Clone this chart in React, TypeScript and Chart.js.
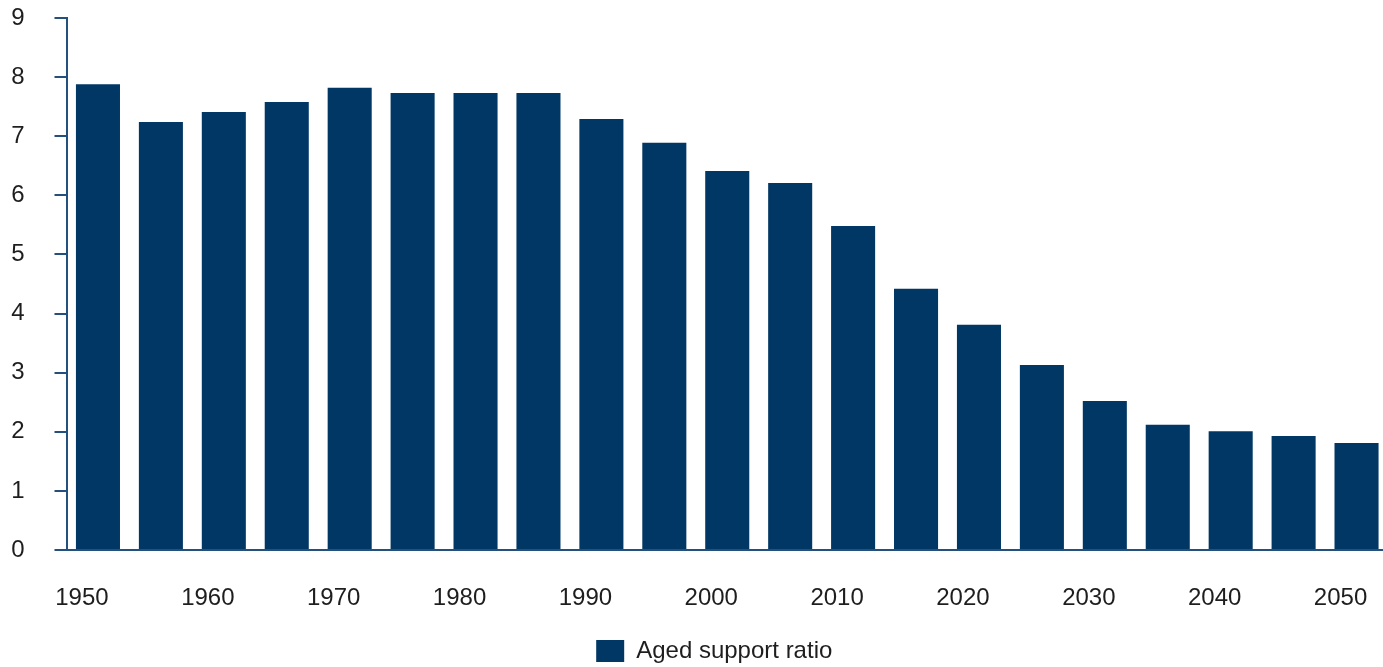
import React, { useEffect, useRef } from "react";
import { Chart, registerables } from "chart.js";

Chart.register(...registerables);

const years: string[] = [
  "1950", "1955", "1960", "1965", "1970", "1975", "1980", "1985", "1990", "1995",
  "2000", "2005", "2010", "2015", "2020", "2025", "2030", "2035", "2040", "2045", "2050",
];
const agedSupportRatio: number[] = [
  7.88, 7.24, 7.41, 7.58, 7.82, 7.73, 7.73, 7.73, 7.29, 6.89,
  6.41, 6.21, 5.48, 4.42, 3.81, 3.13, 2.52, 2.12, 2.01, 1.93, 1.81,
];
const yTicks: number[] = [0, 1, 2, 3, 4, 5, 6, 7, 8, 9];
const seriesName = "Aged support ratio";

const BAR = "#003764";
const AXIS = "#23507d";
const TEXT = "#1e1e1e";
const FONT = "'Liberation Sans', Arial, sans-serif";

const legendShift = {
  id: "legendShift",
  afterLayout(chart: any) {
    const lg = chart.legend;
    if (lg) {
      lg.left -= 13;
      lg.right -= 13;
    }
  },
};

export default function App() {
  const ref = useRef<HTMLCanvasElement | null>(null);
  useEffect(() => {
    if (!ref.current) return;
    const chart = new Chart(ref.current, {
      type: "bar",
      data: {
        labels: years,
        datasets: [
          {
            label: seriesName,
            data: agedSupportRatio,
            backgroundColor: BAR,
            borderWidth: 0,
            barPercentage: 0.7,
            categoryPercentage: 1,
          },
        ],
      },
      plugins: [legendShift],
      options: {
        responsive: false,
        animation: false,
        layout: { padding: { left: 11, right: 4, top: 18, bottom: 3 } },
        plugins: {
          tooltip: { enabled: false },
          legend: {
            position: "bottom",
            fullSize: false,
            labels: {
              boxWidth: 28,
              boxHeight: 22,
              padding: 6,
              color: TEXT,
              font: { family: FONT, size: 24 },
            },
          },
        },
        scales: {
          x: {
            grid: { display: false },
            border: { display: true, color: AXIS, width: 2 },
            ticks: {
              autoSkip: false,
              maxRotation: 0,
              padding: 26,
              labelOffset: -16,
              color: TEXT,
              font: { family: FONT, size: 24 },
              callback: (_v: any, i: number) => (Number(years[i]) % 10 === 0 ? years[i] : ""),
            },
            afterFit: (axis: any) => {
              axis.height = 83;
              axis.paddingLeft = 0;
              axis.paddingRight = 0;
            },
          },
          y: {
            min: yTicks[0],
            max: yTicks[yTicks.length - 1],
            afterBuildTicks: (axis: any) => {
              axis.ticks = yTicks.map((v) => ({ value: v }));
            },
            afterFit: (axis: any) => {
              axis.width = 55.5;
              axis.paddingTop = 0;
              axis.paddingBottom = 0;
            },
            grid: {
              drawOnChartArea: false,
              drawTicks: true,
              tickLength: 12,
              color: AXIS,
              lineWidth: 2,
            },
            border: { display: true, color: AXIS, width: 2 },
            ticks: {
              padding: 30,
              color: TEXT,
              font: { family: FONT, size: 24 },
            },
          },
        },
      },
    });
    return () => chart.destroy();
  }, []);
  return (
    <div style={{ position: "fixed", left: 0, top: 0, width: 1383, height: 667, overflow: "hidden", background: "#fff" }}>
      <canvas ref={ref} width={1392} height={676} style={{ display: "block" }} />
    </div>
  );
}
